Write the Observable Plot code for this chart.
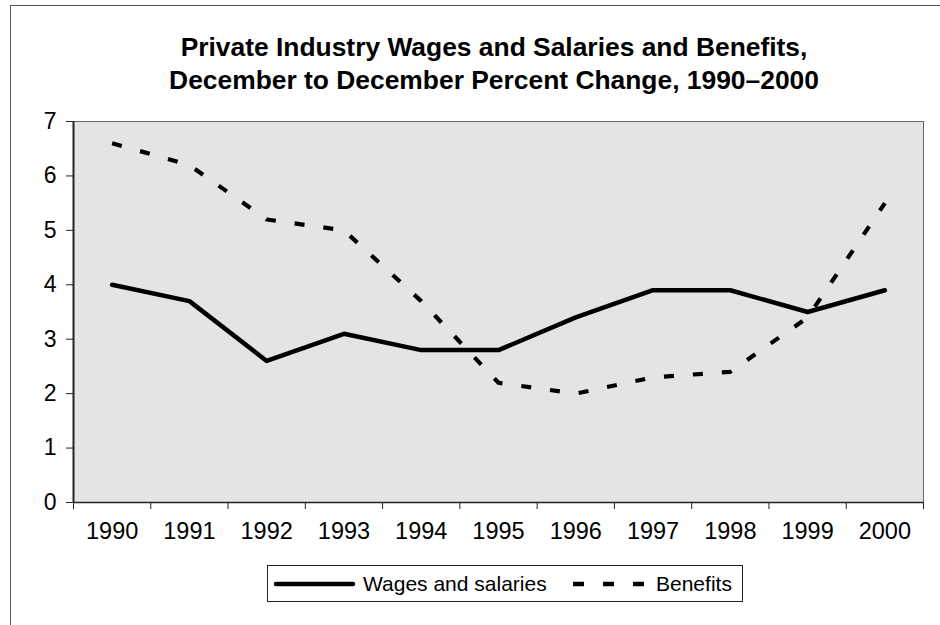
<!DOCTYPE html>
<html>
<head>
<meta charset="utf-8">
<script src="https://cdn.jsdelivr.net/npm/d3@7"></script>
<script src="https://cdn.jsdelivr.net/npm/@observablehq/plot@0.6"></script>
<style>
  html, body { margin: 0; padding: 0; background: #fff; overflow: hidden; }
  body { width: 940px; height: 625px; position: relative; font-family: "Liberation Sans", Arial, sans-serif; }
  #frame { position: absolute; left: 10px; top: 5px; width: 1000px; height: 700px; border-left: 1px solid #555; border-top: 1px solid #555; }
  #title { position: absolute; left: 48px; width: 892px; top: 31px; text-align: center; font-weight: bold; font-size: 26.4px; line-height: 33px; color: #000; }
  #chart { position: absolute; left: 0; top: 100px; }
  #legend { position: absolute; left: 267px; top: 565px; width: 476px; height: 37px; box-sizing: border-box; border: 1px solid #222; background: #fff; }
  #legend svg { position: absolute; left: 0; top: 0; }
</style>
</head>
<body>
<div id="frame"></div>
<div id="title"></div>
<div id="chart"></div>
<div id="legend"></div>
<script>
const titleLines = [
  "Private Industry Wages and Salaries and Benefits,",
  "December to December Percent Change, 1990\u20132000"
];
const years = [1990, 1991, 1992, 1993, 1994, 1995, 1996, 1997, 1998, 1999, 2000];
const wages = [4.0, 3.7, 2.6, 3.1, 2.8, 2.8, 3.4, 3.9, 3.9, 3.5, 3.9];
const benefits = [6.6, 6.2, 5.2, 5.0, 3.7, 2.2, 2.0, 2.3, 2.4, 3.4, 5.5];
const seriesNames = ["Wages and salaries", "Benefits"];
const yTicks = [0, 1, 2, 3, 4, 5, 6, 7];

document.getElementById("title").innerHTML = titleLines.join("<br>");

const rows = years.map((yr, i) => ({year: yr, wages: wages[i], benefits: benefits[i]}));
const boundaries = years.map(y => y - 0.5).concat([years[years.length - 1] + 0.5]);

const chart = Plot.plot({
  width: 940,
  height: 450,
  marginTop: 21,
  marginBottom: 48,
  marginLeft: 73,
  marginRight: 17,
  style: {fontFamily: "'Liberation Sans', Arial, sans-serif", color: "#000", background: "transparent"},
  x: {type: "linear", domain: [years[0] - 0.5, years[years.length - 1] + 0.5], axis: null, label: null},
  y: {domain: [0, 7], axis: null, label: null},
  marks: [
    Plot.frame({fill: "#e4e4e4", stroke: "#6a6a6a"}),
    Plot.axisY({ticks: yTicks, tickSize: 7, tickPadding: 10, fontSize: 23, label: null, tickFormat: d => String(d), stroke: "#222"}),
    Plot.axisX({ticks: boundaries, tickSize: 7, label: null, tickFormat: () => "", stroke: "#222"}),
    Plot.axisX({ticks: years, tickSize: 0, tickPadding: 20, fontSize: 23.5, label: null, tickFormat: d => String(d)}),
    Plot.ruleX([years[0] - 0.5], {stroke: "#222", strokeWidth: 2}),
    Plot.ruleY([0], {stroke: "#222", strokeWidth: 1.5}),
    Plot.lineY(rows, {x: "year", y: "benefits", stroke: "#000", strokeWidth: 4.2, strokeDasharray: "10,19", strokeLinecap: "butt"}),
    Plot.lineY(rows, {x: "year", y: "wages", stroke: "#000", strokeWidth: 4.5, strokeLinejoin: "round", strokeLinecap: "round"})
  ]
});
document.getElementById("chart").appendChild(chart);

// Legend
const lg = d3.select("#legend").append("svg").attr("width", 476).attr("height", 37);
lg.append("line").attr("x1", 8).attr("x2", 85).attr("y1", 18).attr("y2", 18)
  .attr("stroke", "#000").attr("stroke-width", 4.5).attr("stroke-linecap", "round");
lg.append("text").attr("x", 95).attr("y", 18).attr("dy", "0.35em")
  .attr("font-size", 21).attr("font-family", "'Liberation Sans', Arial, sans-serif").text(seriesNames[0]);
lg.append("line").attr("x1", 305).attr("x2", 379).attr("y1", 18).attr("y2", 18)
  .attr("stroke", "#000").attr("stroke-width", 4.5).attr("stroke-dasharray", "11,19");
lg.append("text").attr("x", 388).attr("y", 18).attr("dy", "0.35em")
  .attr("font-size", 21).attr("font-family", "'Liberation Sans', Arial, sans-serif").text(seriesNames[1]);
</script>
</body>
</html>
